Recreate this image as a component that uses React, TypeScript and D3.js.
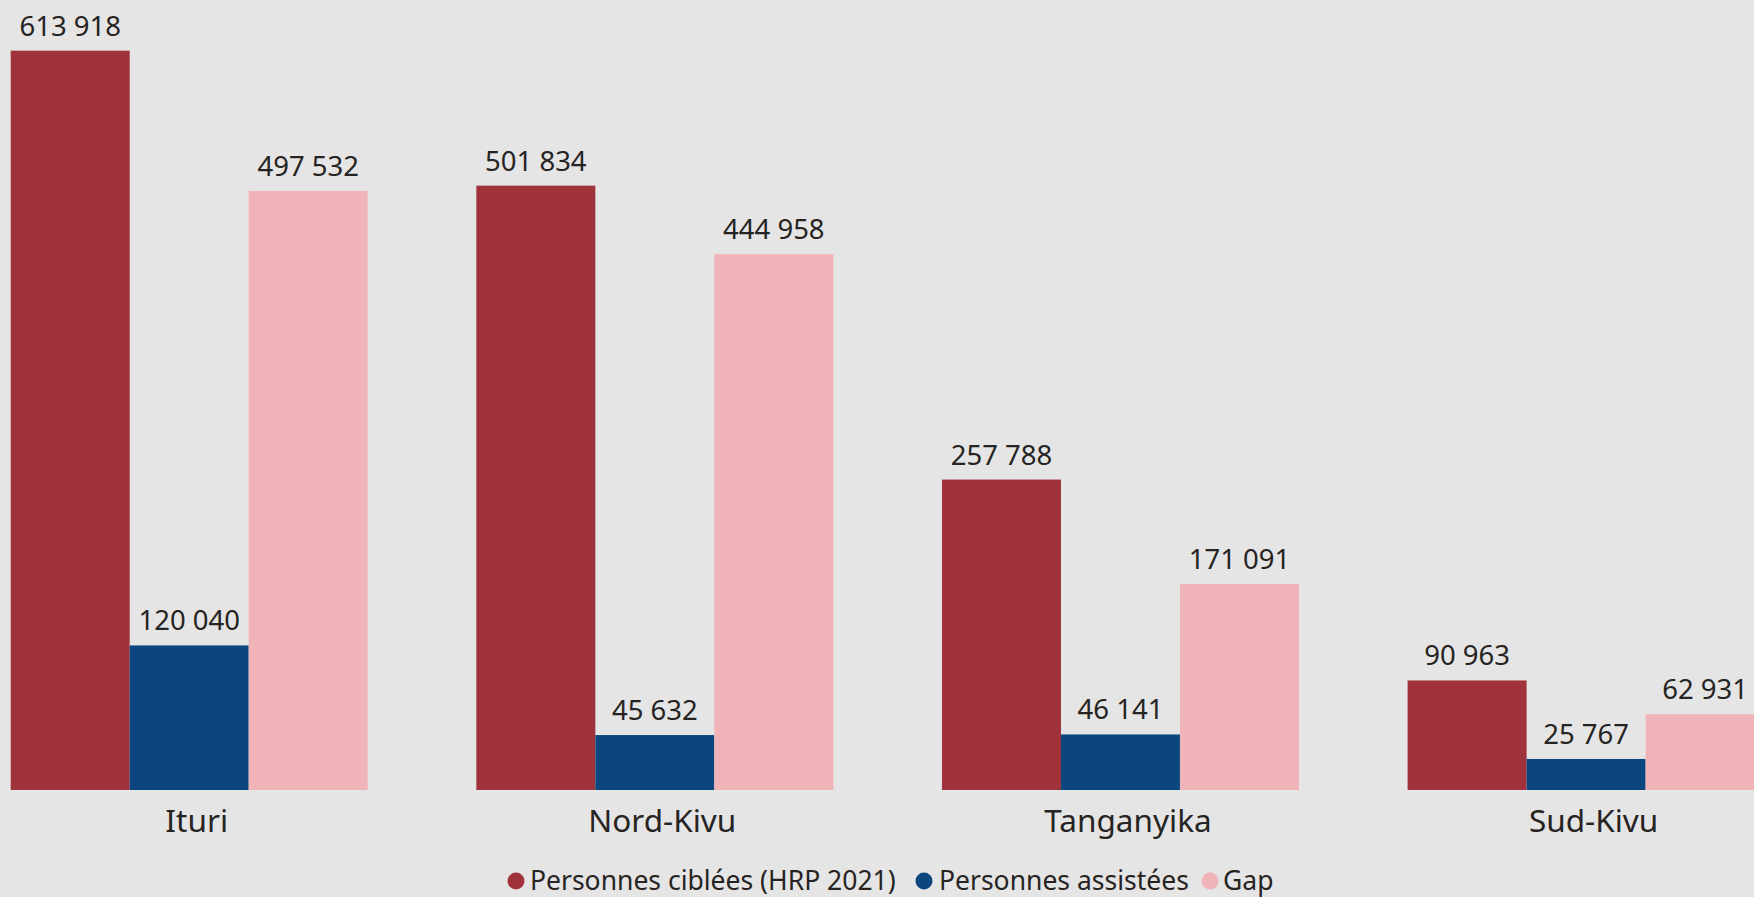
import React, { useEffect } from "react";
import * as d3 from "d3";

const categories = ["Ituri", "Nord-Kivu", "Tanganyika", "Sud-Kivu"];
const seriesNames = ["Personnes ciblées (HRP 2021)", "Personnes assistées", "Gap"];
const cibles = [613918, 501834, 257788, 90963];
const assistes = [120040, 45632, 46141, 25767];
const gap = [497532, 444958, 171091, 62931];
const seriesColors = ["#A0323C", "#0B477E", "#F0B4B8"];

const W = 1754;
const H = 897;
const FONT = "'Segoe UI', 'Noto Sans', 'Open Sans', sans-serif";

const fmt = (v: number) => d3.format(",")(v).replace(/,/g, " ");

export default function App() {
  useEffect(() => {
    document.body.style.margin = "0";
    document.body.style.background = "#E5E5E5";
  }, []);

  const seriesValues = [cibles, assistes, gap];
  const x0 = d3.scaleBand<string>().domain(categories).range([10.7, 1764.6]).paddingInner(0.2333).paddingOuter(0);
  const x1 = d3.scaleBand<number>().domain([0, 1, 2]).range([0, x0.bandwidth()]).padding(0);
  const y = d3.scaleLinear().domain([0, 656000]).range([790, 0]);

  const legendItems = [
    { cx: 516, tx: 530 },
    { cx: 924, tx: 939 },
    { cx: 1210, tx: 1223 },
  ];

  return (
    <svg width={W} height={H} style={{ display: "block", background: "#E5E5E5" }} fontFamily={FONT}>
      <rect x={0} y={0} width={W} height={H} fill="#E5E5E5" />
      {categories.map((c, i) => (
        <g key={c} transform={`translate(${x0(c)},0)`}>
          {seriesValues.map((vals, s) => {
            const v = vals[i];
            const bx = x1(s) as number;
            return (
              <g key={s}>
                <rect x={bx} y={y(v)} width={x1.bandwidth()} height={y(0) - y(v)} fill={seriesColors[s]} />
                <text
                  x={bx + x1.bandwidth() / 2}
                  y={y(v) - 15}
                  textAnchor="middle"
                  fontSize={27.5}
                  fill="#252423"
                >
                  {fmt(v)}
                </text>
              </g>
            );
          })}
          <text x={x0.bandwidth() / 2 + 7.5} y={832} textAnchor="middle" fontSize={31.5} fill="#252423">
            {c}
          </text>
        </g>
      ))}
      {seriesNames.map((n, s) => (
        <g key={n}>
          <circle cx={legendItems[s].cx} cy={881} r={8.5} fill={seriesColors[s]} />
          <text x={legendItems[s].tx} y={890} fontSize={26.5} fill="#252423">
            {n}
          </text>
        </g>
      ))}
    </svg>
  );
}
